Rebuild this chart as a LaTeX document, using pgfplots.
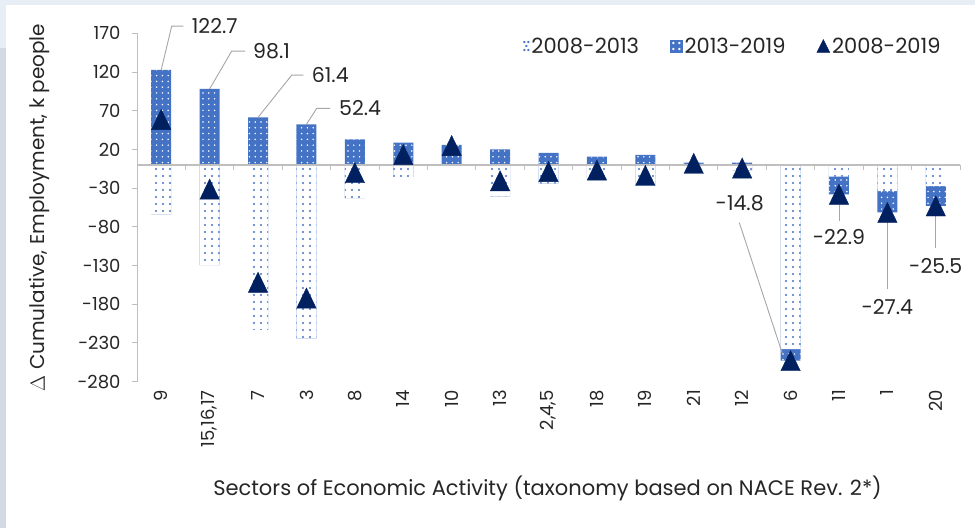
\documentclass[border=0pt]{standalone}
\usepackage{fontspec}
\setmainfont{Poppins}
\usepackage{pgfplots}
\pgfplotsset{compat=1.18}
\usepackage{pgfplotstable}
\usetikzlibrary{patterns.meta}
\definecolor{barblue}{HTML}{4472C4}
\definecolor{navy}{HTML}{002060}
\definecolor{axgrey}{HTML}{BFBFBF}
\definecolor{leadgrey}{HTML}{A6A6A6}
\definecolor{txt}{HTML}{262626}
\definecolor{bgblue}{HTML}{E8EEF6}
\definecolor{bggrey}{HTML}{D3DAE3}
\newcommand\tf{\fontsize{18bp}{22bp}\selectfont}
\newcommand\lf{\fontsize{21bp}{24bp}\selectfont}
\newcommand\af{\fontsize{21bp}{24bp}\selectfont}
\newcommand\yf{\fontsize{20bp}{24bp}\selectfont}
\newcommand\df{\fontsize{20.5bp}{24bp}\selectfont}

% x: category index; a: 2008-2013; b: 2013-2019; t: 2008-2019
\pgfplotstableread{
x a b t
0 -64 122.7 58.7
1 -129.4 98.1 -31.3
2 -213 61.4 -151.6
3 -224.3 52.4 -171.9
4 -43 33 -10
5 -15.3 28.7 13.4
6 -1 26 25
7 -40.5 20 -20.5
8 -24 15.5 -8.5
9 -17.5 10.8 -6.7
10 -26.5 13 -13.5
11 -1 3 2
12 -7 3 -4
13 -238 -14.8 -252.8
14 -15 -22.9 -37.9
15 -34 -27.4 -61.4
16 -27.5 -25.5 -53
}\data

\tikzset{
  bluebar/.style={fill=barblue, draw=none, postaction={pattern={Dots[distance=5.8bp, radius=0.85bp]}, pattern color=white}},
  lightbar/.style={fill=white, draw=none, postaction={pattern={Dots[distance=7bp, radius=1.15bp, xshift=2bp, yshift=2bp]}, pattern color=barblue}},
}

\begin{document}
\begin{tikzpicture}
\fill[white] (0,0) rectangle (975bp,528bp);
\fill[bgblue] (0,523bp) rectangle (975bp,528bp);
\fill[bgblue] (0,480bp) rectangle (6bp,528bp);
\fill[bggrey] (0,0) rectangle (6bp,480bp);
\begin{axis}[
  at={(137bp,146.3bp)}, anchor=south west,
  scale only axis, width=823bp, height=348.4bp,
  xmin=-0.5, xmax=16.5, ymin=-280, ymax=170,
  clip=false,
  axis lines*=left,
  x axis line style={draw=none},
  y axis line style={axgrey, line width=1bp},
  xtick={0,...,16},
  xticklabels={9,{15,16,17},7,3,8,14,10,13,{2,4,5},18,19,21,12,6,11,1,20},
  xtick style={draw=none},
  ytick={-280,-230,...,170},
  ytick style={axgrey, line width=1bp},
  tick align=outside,
  major tick length=5bp,
  /pgf/number format/assume math mode=true,
  yticklabel style={font=\tf, text=txt, xshift=-8bp},
  xticklabel style={font=\tf, text=txt, rotate=90, anchor=east},
  every axis y label/.style={at={(axis description cs:-0.118,0.5)}, rotate=90, anchor=center, font=\yf, text=txt},
  every axis x label/.style={at={(axis description cs:0.4988,-0.305)}, anchor=center, font=\af, text=txt},
  ylabel={$\Delta$ Cumulative, Employment, k people},
  xlabel={Sectors of Economic Activity (taxonomy based on NACE Rev. 2*)},
  legend style={at={(axis description cs:0.979,0.9635)}, anchor=east, draw=none, fill=none,
    legend columns=-1, font=\lf, text=txt, inner sep=0pt,
    nodes={inner xsep=2bp},
    /tikz/every even column/.append style={column sep=29bp},
    /tikz/every odd column/.append style={column sep=0bp}},
]
\addlegendimage{legend image code/.code={\fill[barblue]
  (1bp,-4bp) circle (0.9bp) (5bp,-4bp) circle (0.9bp)
  (3bp,0bp) circle (0.9bp) (1bp,4bp) circle (0.9bp) (5bp,4bp) circle (0.9bp);}}
\addlegendentry{2008-2013}
\addlegendimage{legend image code/.code={\fill[barblue] (0bp,-6bp) rectangle (12bp,6bp); \fill[white] (3bp,-3bp) circle (1bp) (9bp,-3bp) circle (1bp) (3bp,3bp) circle (1bp) (9bp,3bp) circle (1bp);}}
\addlegendentry{2013-2019}
\addlegendimage{legend image code/.code={\fill[navy] (0bp,-6.5bp) -- (6.5bp,6.5bp) -- (13bp,-6.5bp) -- cycle;}}
\addlegendentry{2008-2019}

\addplot[ybar, bar width=20bp, bar shift=0pt, bluebar, forget plot]
  table[x=x, y expr={max(\thisrow{a},0)+max(\thisrow{b},0)}] {\data};
\addplot[ybar, bar width=20bp, bar shift=0pt, bluebar, forget plot]
  table[x=x, y expr={min(\thisrow{a},0)+min(\thisrow{b},0)}] {\data};
\addplot[ybar, bar width=20bp, bar shift=0pt, lightbar, forget plot]
  table[x=x, y=a] {\data};

\draw[axgrey, line width=1.2bp] (axis cs:-0.5,0) -- (axis cs:16.5,0);
\draw[axgrey, line width=1bp]
  (axis cs:0.5,0) -- ([yshift=-5bp]axis cs:0.5,0)
  (axis cs:1.5,0) -- ([yshift=-5bp]axis cs:1.5,0)
  (axis cs:2.5,0) -- ([yshift=-5bp]axis cs:2.5,0)
  (axis cs:3.5,0) -- ([yshift=-5bp]axis cs:3.5,0)
  (axis cs:4.5,0) -- ([yshift=-5bp]axis cs:4.5,0)
  (axis cs:5.5,0) -- ([yshift=-5bp]axis cs:5.5,0)
  (axis cs:6.5,0) -- ([yshift=-5bp]axis cs:6.5,0)
  (axis cs:7.5,0) -- ([yshift=-5bp]axis cs:7.5,0)
  (axis cs:8.5,0) -- ([yshift=-5bp]axis cs:8.5,0)
  (axis cs:9.5,0) -- ([yshift=-5bp]axis cs:9.5,0)
  (axis cs:10.5,0) -- ([yshift=-5bp]axis cs:10.5,0)
  (axis cs:11.5,0) -- ([yshift=-5bp]axis cs:11.5,0)
  (axis cs:12.5,0) -- ([yshift=-5bp]axis cs:12.5,0)
  (axis cs:13.5,0) -- ([yshift=-5bp]axis cs:13.5,0)
  (axis cs:14.5,0) -- ([yshift=-5bp]axis cs:14.5,0)
  (axis cs:15.5,0) -- ([yshift=-5bp]axis cs:15.5,0)
  (axis cs:16.5,0) -- ([yshift=-5bp]axis cs:16.5,0);

\addplot[only marks, mark=triangle*, mark size=11.2bp, navy,
  mark options={fill=navy, draw=navy, yshift=-3.36bp, yscale=1.2}, forget plot]
  table[x=x, y=t] {\data};

% data labels with leader lines
\draw[leadgrey, line width=0.9bp] (axis cs:0,122.7) -- (axis cs:0.217,179.3) -- (axis cs:0.456,179.3);
\node[anchor=west, inner sep=0pt, font=\df, text=txt] at (axis cs:0.63,179.3) {122.7};
\draw[leadgrey, line width=0.9bp] (axis cs:1,98.1) -- (axis cs:1.456,147) -- (axis cs:1.731,147);
\node[anchor=west, inner sep=0pt, font=\df, text=txt] at (axis cs:1.896,147) {98.1};
\draw[leadgrey, line width=0.9bp] (axis cs:2,61.4) -- (axis cs:2.696,116) -- (axis cs:2.935,116);
\node[anchor=west, inner sep=0pt, font=\df, text=txt] at (axis cs:3.109,116) {61.4};
\draw[leadgrey, line width=0.9bp] (axis cs:3,52.4) -- (axis cs:3.212,73) -- (axis cs:3.487,73);
\node[anchor=west, inner sep=0pt, font=\df, text=txt] at (axis cs:3.673,73) {52.4};
\draw[leadgrey, line width=0.9bp] (axis cs:11.94,-74.3) -- (axis cs:12.83,-243.5);
\node[inner sep=0pt, font=\df, text=txt] at (axis cs:11.95,-49.1) {-14.8};
\draw[leadgrey, line width=0.9bp] (axis cs:14,-51.9) -- (axis cs:14,-72.6);
\node[inner sep=0pt, font=\df, text=txt] at (axis cs:14,-93.3) {-22.9};
\draw[leadgrey, line width=0.9bp] (axis cs:15,-61.4) -- (axis cs:15,-160.8);
\node[inner sep=0pt, font=\df, text=txt] at (axis cs:15,-184) {-27.4};
\draw[leadgrey, line width=0.9bp] (axis cs:16,-53.2) -- (axis cs:16,-107.9);
\node[inner sep=0pt, font=\df, text=txt] at (axis cs:16,-130.7) {-25.5};
\end{axis}
\end{tikzpicture}
\end{document}
